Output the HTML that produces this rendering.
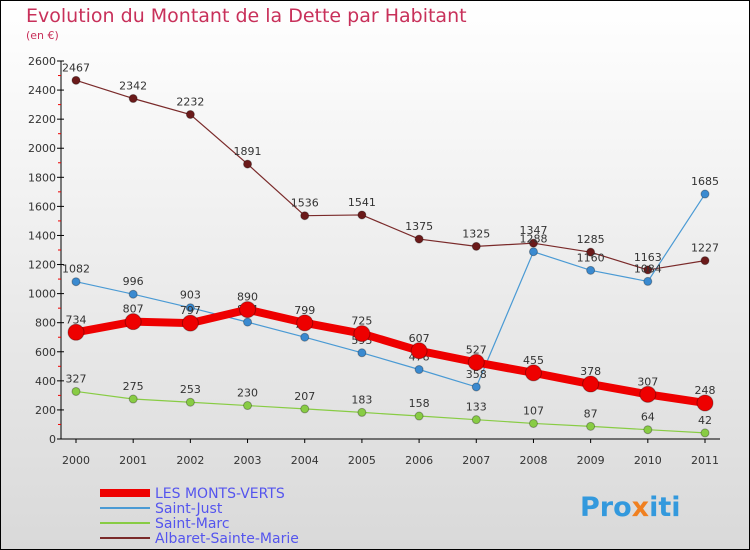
<!DOCTYPE html>
<html><head><meta charset="utf-8"><style>
body{margin:0;}
#c{width:750px;height:550px;position:relative;overflow:hidden;font-family:"DejaVu Sans","Liberation Sans",sans-serif;}
</style></head><body>
<div id="c">
<svg id="s" width="750" height="550" xmlns="http://www.w3.org/2000/svg">
<defs><linearGradient id="bg" x1="0" y1="0" x2="0" y2="1"><stop offset="0" stop-color="#ffffff"/><stop offset="1" stop-color="#d9d9d9"/></linearGradient></defs>
<rect x="0.5" y="0.5" width="749" height="549" fill="url(#bg)" stroke="#000"/>
<text x="26" y="22" font-size="19" fill="#c8305a">Evolution du Montant de la Dette par Habitant</text>
<text x="26" y="39" font-size="11" fill="#c8305a">(en €)</text>
<g id="axes"></g><g id="series"></g><g id="legend"></g>
<text x="580" y="516" font-size="27" font-weight="bold" fill="#3399dd">Pro<tspan fill="#f08020">x</tspan>iti</text>
</svg></div>
<script>
const years=["2000","2001","2002","2003","2004","2005","2006","2007","2008","2009","2010","2011"];
const yTicks=[0,200,400,600,800,1000,1200,1400,1600,1800,2000,2200,2400,2600];
const montsVerts=[734,807,797,890,799,725,607,527,455,378,307,248];
const saintJust=[1082,996,903,804,700,593,478,358,1288,1160,1084,1685];
const saintMarc=[327,275,253,230,207,183,158,133,107,87,64,42];
const albaret=[2467,2342,2232,1891,1536,1541,1375,1325,1347,1285,1163,1227];
const NS="http://www.w3.org/2000/svg";
function X(i){return 76+i*(705-76)/(years.length-1);}
function Y(v){return 439-v*(439-61)/2600;}
function mk(t,a,p){const e=document.createElementNS(NS,t);for(const k in a)e.setAttribute(k,a[k]);p.appendChild(e);return e;}
const ax=document.getElementById('axes');
const yl=mk('line',{x1:61,y1:Y(2600),x2:61,y2:439,stroke:'#000'},ax);


const xl=mk('line',{x1:61,y1:439,x2:720,y2:439,stroke:'#000'},ax);


yTicks.forEach((v,i)=>{
 mk('line',{x1:57,y1:Y(v),x2:64,y2:Y(v),stroke:'#000'},ax);
 if(i<yTicks.length-1)mk('line',{x1:58,y1:Y(v+100),x2:61,y2:Y(v+100),stroke:'#e00'},ax);
 const t=mk('text',{x:56,y:Y(v)+4,'font-size':11,'text-anchor':'end',fill:'#333'},ax);t.textContent=v;
 
 
});
years.forEach((y,i)=>{
 mk('line',{x1:X(i),y1:439,x2:X(i),y2:443,stroke:'#000'},ax);
 const t=mk('text',{x:X(i),y:464,'font-size':11,'text-anchor':'middle',fill:'#333'},ax);t.textContent=y;
 
 
});
const sg=document.getElementById('series');
function draw(data,color,w,r,name,dot){
 const g=mk('g',{},sg);
 
 
 mk('polyline',{points:data.map((v,i)=>X(i)+','+Y(v)).join(' '),fill:'none',stroke:color,'stroke-width':w},g);
 data.forEach((v,i)=>{
  const c=mk('circle',{cx:X(i),cy:Y(v),r:r,fill:dot,stroke:'rgba(0,0,0,0.3)'},g);
  
  
  const t=mk('text',{x:X(i),y:Y(v)-9,'font-size':11,'text-anchor':'middle',fill:'#333'},g);t.textContent=v;
  
  
 });
}
draw(albaret,'#7a2a2a',1.2,4,'albaret-series','#6b1a1a');
draw(saintMarc,'#88cc44',1.2,4,'saint-marc-series','#88cc44');
draw(saintJust,'#4a9ad4',1.2,4,'saint-just-series','#3a8ad0');
draw(montsVerts,'#ee0000',8,8,'monts-verts-series','#ee0000');
const lg=document.getElementById('legend');
const items=[["LES MONTS-VERTS","#ee0000",8],["Saint-Just","#4a9ad4",2],["Saint-Marc","#88cc44",2],["Albaret-Sainte-Marie","#7a2a2a",2]];
items.forEach((it,i)=>{
 const y=493+i*15;
 const g=mk('g',{},lg);
 
 
 mk('line',{x1:100,y1:y,x2:150,y2:y,stroke:it[1],'stroke-width':it[2]},g);
 const t=mk('text',{x:155,y:y+5,'font-size':14,fill:'#5555ee'},g);t.textContent=it[0];
});
</script>
</body></html>
